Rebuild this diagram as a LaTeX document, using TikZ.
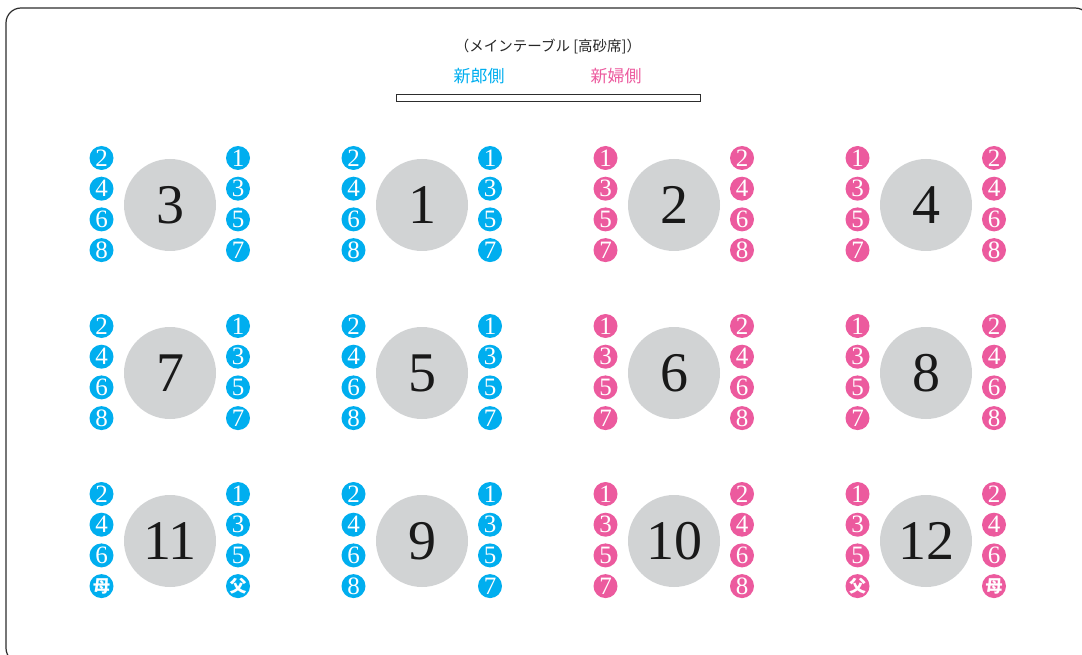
\documentclass[tikz,border=0pt]{standalone}
\usepackage{fontspec}
\setmainfont{Liberation Serif}
\newfontfamily\jpfont{Noto Sans CJK JP}
\definecolor{groomblue}{RGB}{0,174,239}
\definecolor{bridepink}{RGB}{236,90,158}
\definecolor{tablegrey}{RGB}{209,211,212}
\definecolor{framegrey}{RGB}{45,45,45}
\newcommand\kin[1]{{\jpfont\bfseries\fontsize{17}{17}\selectfont #1}}
\tikzset{
    tablecirc/.style={circle, fill=tablegrey, minimum size=92pt, inner sep=0pt,
        text=black!90, font=\fontsize{56}{56}\selectfont},
    seat/.style={circle, fill=#1, minimum size=24pt, inner sep=0pt,
        text=white, font=\fontsize{25}{25}\selectfont},
}
% one round table with its two columns of seats
\newcommand\seattable[7]{%
    \node[tablecirc] (#1) at (#2,#3) {#4};
    \foreach \s [count=\i] in {#6}
        \node[seat=#5] (#1l\i) at ({#2-68.5},{#3-47+30.7*(\i-1)}) {\s};
    \foreach \s [count=\i] in {#7}
        \node[seat=#5] (#1r\i) at ({#2+68},{#3-47+30.7*(\i-1)}) {\s};
}
\begin{document}
\begin{tikzpicture}[x=1pt,y=-1pt]
            \useasboundingbox (0,0) rectangle (1082,655);
            \clip (0,0) rectangle (1082,655);
            \draw[framegrey, line width=1.2pt, rounded corners=15pt] (6,8) rectangle (1090,663);
            % main table
            \node[font=\jpfont\fontsize{14.5}{14.5}\selectfont, text=black!85] (title) at (548,47) {（メインテーブル [高砂席]）};
            \node[font=\jpfont\fontsize{17}{17}\selectfont, text=groomblue] (groom) at (479,76) {新郎側};
            \node[font=\jpfont\fontsize{17}{17}\selectfont, text=bridepink] (bride) at (616,76) {新婦側};
            \node[draw=framegrey, line width=1pt, minimum width=304pt, minimum height=7pt, inner sep=0pt] (maintable) at (548,98.5) {};
            % groom side
            \begin{scope}
                \seattable{t3}{170}{205}{3}{groomblue}{2,4,6,8}{1,3,5,7}
                \seattable{t1}{422}{205}{1}{groomblue}{2,4,6,8}{1,3,5,7}
                \seattable{t7}{170}{373}{7}{groomblue}{2,4,6,8}{1,3,5,7}
                \seattable{t5}{422}{373}{5}{groomblue}{2,4,6,8}{1,3,5,7}
                \seattable{t11}{170}{541}{11}{groomblue}{2,4,6,{\kin{母}}}{1,3,5,{\kin{父}}}
                \seattable{t9}{422}{541}{9}{groomblue}{2,4,6,8}{1,3,5,7}
            \end{scope}
            % bride side
            \begin{scope}
                \seattable{t2}{674}{205}{2}{bridepink}{1,3,5,7}{2,4,6,8}
                \seattable{t4}{926}{205}{4}{bridepink}{1,3,5,7}{2,4,6,8}
                \seattable{t6}{674}{373}{6}{bridepink}{1,3,5,7}{2,4,6,8}
                \seattable{t8}{926}{373}{8}{bridepink}{1,3,5,7}{2,4,6,8}
                \seattable{t10}{674}{541}{10}{bridepink}{1,3,5,7}{2,4,6,8}
                \seattable{t12}{926}{541}{12}{bridepink}{1,3,5,{\kin{父}}}{2,4,6,{\kin{母}}}
            \end{scope}
\end{tikzpicture}
\end{document}
